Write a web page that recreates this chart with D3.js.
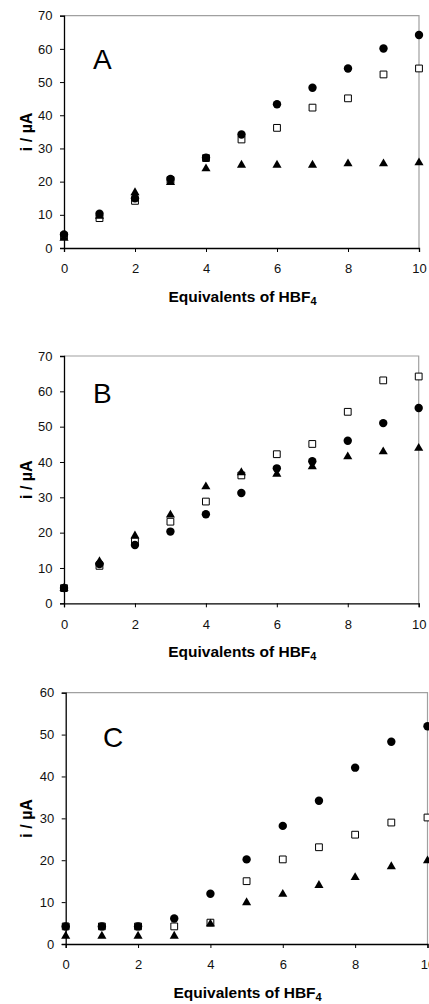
<!DOCTYPE html>
<html>
<head>
<meta charset="utf-8">
<script src="https://cdn.jsdelivr.net/npm/d3@7"></script>
<style>
  body { margin: 0; background: #fff; }
  svg { display: block; font-family: "Liberation Sans", Arial, sans-serif; }
</style>
</head>
<body>
<script>
const equivalents = [0, 1, 2, 3, 4, 5, 6, 7, 8, 9, 10];
const xTicks = [0, 2, 4, 6, 8, 10];

const aCircle = [4.1, 10.3, 15, 20.8, 27.2, 34.2, 43.3, 48.3, 54.1, 60.1, 64.2];
const aSquare = [3.6, 9, 14.2, 20.5, 27.1, 32.7, 36.2, 42.3, 45.1, 52.3, 54.1];
const aTriangle = [3, 9.6, 16.7, 19.8, 23.9, 25, 25, 25, 25.4, 25.4, 25.7];

const bCircle = [4.3, 11.1, 16.5, 20.3, 25.2, 31.2, 38.2, 40.2, 46, 51, 55.3];
const bSquare = [4.3, 10.6, 17.5, 23.1, 28.8, 36.2, 42.2, 45.1, 54.2, 63.1, 64.2];
const bTriangle = [4.3, 11.8, 19.1, 25, 33, 37, 36.6, 38.7, 41.5, 42.9, 43.9];

const cCircle = [4.2, 4.2, 4.2, 6.1, 12, 20.2, 28.2, 34.2, 42.1, 48.3, 52];
const cSquare = [4.2, 4.2, 4.2, 4.2, 5.1, 15, 20.2, 23.1, 26.1, 29, 30.2];
const cTriangle = [1.9, 1.9, 1.9, 1.9, 4.8, 9.9, 11.9, 14, 15.9, 18.5, 19.9];

const width = 429;
const height = 1004;

const panels = [
  { label: "A", yMax: 70, left: 64, right: 419, top: 15.7, bottom: 248, lx: 93, ly: 69,
    circle: aCircle, square: aSquare, triangle: aTriangle },
  { label: "B", yMax: 70, left: 64, right: 418.7, top: 356, bottom: 603.3, lx: 93, ly: 402.7,
    circle: bCircle, square: bSquare, triangle: bTriangle },
  { label: "C", yMax: 60, left: 65.7, right: 427.5, top: 692.7, bottom: 944, lx: 103, ly: 746.7,
    circle: cCircle, square: cSquare, triangle: cTriangle }
];

const svg = d3.select("body").append("svg")
  .attr("width", width)
  .attr("height", height);

const drawPanel = (p) => {
  const x = d3.scaleLinear().domain([0, 10]).range([p.left, p.right]);
  const y = d3.scaleLinear().domain([0, p.yMax]).range([p.bottom, p.top]);
  const g = svg.append("g");

  // gray frame top/right
  g.append("path")
    .attr("d", `M${x(0)},${y(p.yMax)}H${x(10)}V${y(0)}`)
    .attr("fill", "none")
    .attr("stroke", "#a0a0a0")
    .attr("stroke-width", 1.2);

  const yAxis = g.append("g")
    .attr("transform", `translate(${x(0)},0)`)
    .call(d3.axisLeft(y).tickValues(d3.range(0, p.yMax + 1, 10)).tickSize(4).tickPadding(7.5).tickFormat(d3.format("d")));
  const xAxis = g.append("g")
    .attr("transform", `translate(0,${y(0)})`)
    .call(d3.axisBottom(x).tickValues(xTicks).tickSize(4).tickPadding(12).tickFormat(d3.format("d")));

  [yAxis, xAxis].forEach((ax) => {
    ax.select(".domain").attr("stroke", "#000").attr("stroke-width", 1.3);
    ax.selectAll(".tick line").attr("stroke", "#000");
    ax.selectAll(".tick text")
      .attr("font-size", 13)
      .attr("fill", "#111")
      .style("font-family", "'Liberation Sans', Arial, sans-serif");
  });

  g.append("text")
    .attr("x", p.lx)
    .attr("y", p.ly)
    .attr("font-size", 28)
    .text(p.label);

  const xt = g.append("text")
    .attr("x", (x(0) + x(10)) / 2 + 1)
    .attr("y", y(0) + 54)
    .attr("text-anchor", "middle")
    .attr("font-size", 15.5)
    .attr("font-weight", "bold")
    .text("Equivalents of HBF");
  xt.append("tspan").attr("font-size", 11).attr("dy", 3).text("4");

  g.append("text")
    .attr("transform", `translate(31.5,${(y(0) + y(p.yMax)) / 2}) rotate(-90)`)
    .attr("text-anchor", "middle")
    .attr("font-size", 16)
    .attr("font-weight", "bold")
    .text("i / µA");

  const pts = (vals) => equivalents.map((e, i) => ({ x: e, y: vals[i] }));

  g.selectAll(".sq")
    .data(pts(p.square))
    .enter().append("path")
    .attr("d", d3.symbol(d3.symbolSquare, 46))
    .attr("transform", (d) => `translate(${x(d.x)},${y(d.y)})`)
    .attr("fill", "#fff")
    .attr("stroke", "#000")
    .attr("stroke-width", 1);

  g.selectAll(".ci")
    .data(pts(p.circle))
    .enter().append("circle")
    .attr("cx", (d) => x(d.x))
    .attr("cy", (d) => y(d.y))
    .attr("r", 4.2)
    .attr("fill", "#000");

  g.selectAll(".tr")
    .data(pts(p.triangle))
    .enter().append("path")
    .attr("d", d3.symbol(d3.symbolTriangle, 36))
    .attr("transform", (d) => `translate(${x(d.x)},${y(d.y)})`)
    .attr("fill", "#000");
};

panels.forEach(drawPanel);
</script>
</body>
</html>
